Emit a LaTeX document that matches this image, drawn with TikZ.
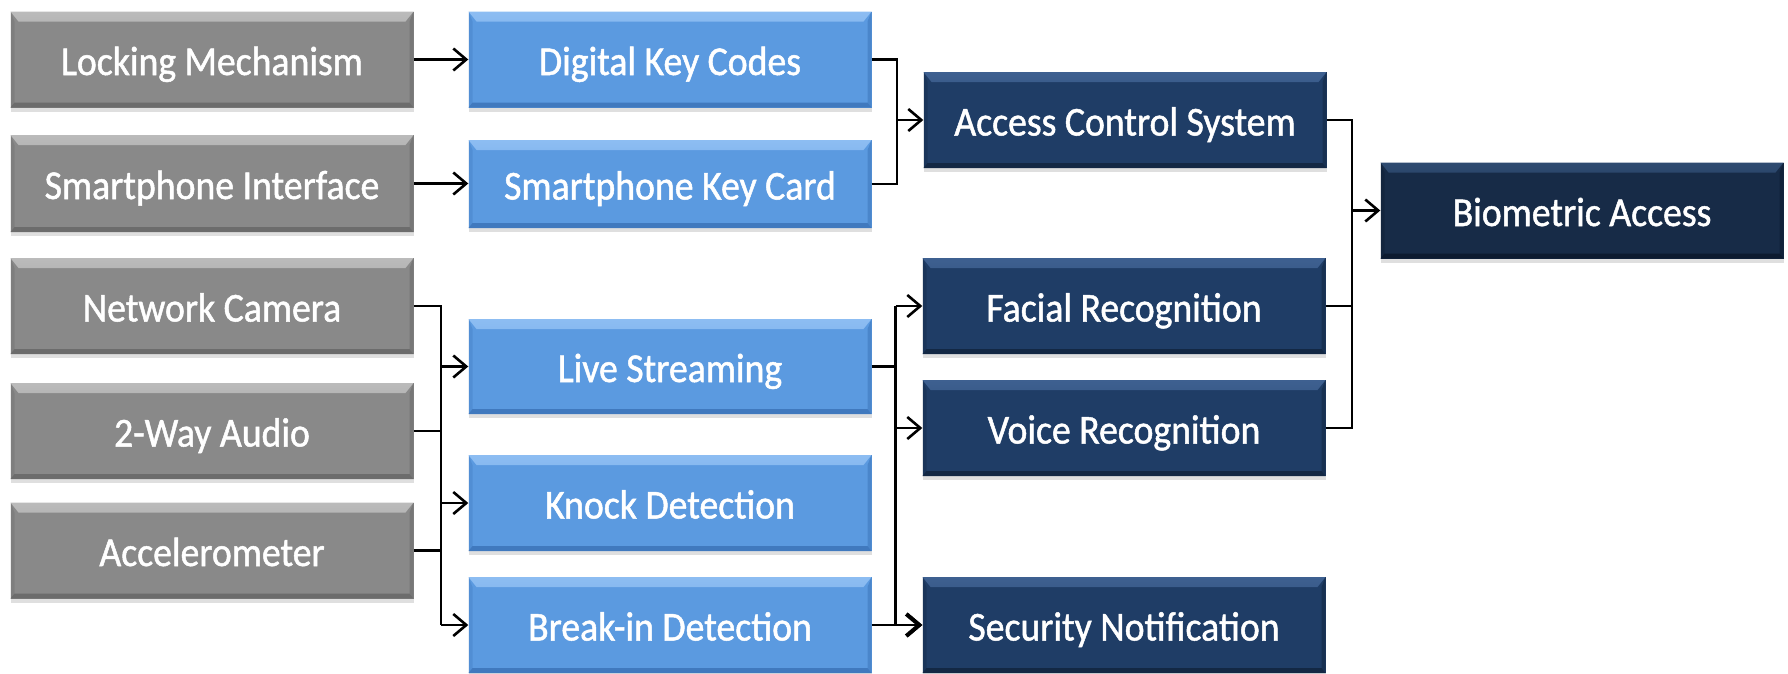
\documentclass[tikz,border=0pt]{standalone}
\usepackage{fontspec}
\setmainfont{Carlito}[FakeStretch=0.92,FakeBold=1.2]
\usetikzlibrary{arrows.meta,shadows}
\definecolor{gbase}{HTML}{898989}
\definecolor{glight}{HTML}{BBBBBB}
\definecolor{gdark}{HTML}{6C6C6C}
\definecolor{bbase}{HTML}{5B9AE0}
\definecolor{blight}{HTML}{8DBDF2}
\definecolor{bdark}{HTML}{4079BE}
\definecolor{nbase}{HTML}{1F3D66}
\definecolor{nlight}{HTML}{3E6090}
\definecolor{ndark}{HTML}{132844}
\definecolor{dbase}{HTML}{172B47}
\definecolor{dlight}{HTML}{2E4A70}
\definecolor{ddark}{HTML}{0D1B30}
\newcommand{\boxfont}{\fontsize{41}{41}\selectfont}
\tikzset{
  bx/.style n args={3}{draw=none, fill=#1, minimum width=403pt, minimum height=96pt,
    inner sep=0pt, text=white, font=\boxfont, text height=31pt, text depth=0pt,
    drop shadow={shadow xshift=0pt, shadow yshift=-4pt, opacity=0.25},
    path picture={
      \shade[top color=#2, bottom color=#1]
        (path picture bounding box.north west) -- (path picture bounding box.north east)
        -- ([xshift=-8pt,yshift=-10pt]path picture bounding box.north east)
        -- ([xshift=8pt,yshift=-10pt]path picture bounding box.north west) -- cycle;
      \fill[#3]
        (path picture bounding box.south west) -- (path picture bounding box.south east)
        -- ([xshift=-4pt,yshift=5pt]path picture bounding box.south east)
        -- ([xshift=4pt,yshift=5pt]path picture bounding box.south west) -- cycle;
      \fill[#3, opacity=0.6]
        (path picture bounding box.north east) -- (path picture bounding box.south east)
        -- ([xshift=-4pt,yshift=5pt]path picture bounding box.south east)
        -- ([xshift=-4pt,yshift=-10pt]path picture bounding box.north east) -- cycle;
      \fill[#3, opacity=0.35]
        (path picture bounding box.north west) -- (path picture bounding box.south west)
        -- ([xshift=4pt,yshift=5pt]path picture bounding box.south west)
        -- ([xshift=4pt,yshift=-10pt]path picture bounding box.north west) -- cycle;
    }},
  graybox/.style={bx={gbase}{glight}{gdark}},
  bluebox/.style={bx={bbase}{blight}{bdark}},
  navybox/.style={bx={nbase}{nlight}{ndark}},
  darkbox/.style={bx={dbase}{dlight}{ddark}},
  conn/.style={draw=black, line width=2.6pt},
  arr/.style={conn, -{Straight Barb[length=13pt,width=22pt,line width=2.6pt]}}
}
\begin{document}
\begin{tikzpicture}[x=1pt,y=-1pt]
\useasboundingbox (0,0) rectangle (1788,673);
% gray column
\node[graybox] (lock) at (212,59.5) {Locking Mechanism};
\node[graybox, minimum height=97pt] (sphi) at (212,183.5) {Smartphone Interface};
\node[graybox] (cam) at (212,306) {Network Camera};
\node[graybox] (audio) at (212,431) {2-Way Audio};
\node[graybox] (accel) at (212,550.5) {Accelerometer};
% blue column
\node[bluebox] (dkc) at (670,59.5) {Digital Key Codes};
\node[bluebox, minimum height=88pt] (skc) at (670,184) {Smartphone Key Card};
\node[bluebox, minimum height=95pt] (live) at (670,366.5) {Live Streaming};
\node[bluebox] (knock) at (670,503) {Knock Detection};
\node[bluebox] (brk) at (670,625) {Break-in Detection};
% navy column
\node[navybox] (acs) at (1125,120) {Access Control System};
\node[navybox] (face) at (1124,306) {Facial Recognition};
\node[navybox] (voice) at (1124,428) {Voice Recognition};
\node[navybox] (sec) at (1124,625) {Security Notification};
\node[darkbox] (bio) at (1582,210.5) {Biometric Access};
% junctions
\coordinate (j1) at (897,120);
\coordinate (j2) at (1352,210.5);
\coordinate (lb) at (441,625);
\coordinate (rb) at (895.5,625);
% connectors
\draw[arr] (lock) -- (dkc);
\draw[arr] (sphi.east) -- (sphi.east -| skc.west);
\draw[conn] (dkc.east) -| (j1);
\draw[conn] (skc.east) -| (j1);
\draw[arr] (j1) -- (acs.west);
\draw[conn] (acs.east) -| (j2);
\draw[conn] (face.east) -| (j2);
\draw[conn] (voice.east) -| (j2);
\draw[arr] (j2) -- (bio.west);
\draw[conn] (cam.east) -| (lb);
\draw[conn] (audio.east) -- (audio.east -| lb);
\draw[conn] (accel.east) -- (accel.east -| lb);
\draw[arr] (live.west -| lb) -- (live.west);
\draw[arr] (knock.west -| lb) -- (knock.west);
\draw[arr] (lb) -- (brk.west);
\draw[conn] (face.west -| rb) -- (rb);
\draw[conn] (live.east) -- (live.east -| rb);
\draw[arr] (face.west -| rb) -- (face.west);
\draw[arr] (voice.west -| rb) -- (voice.west);
\draw[arr] (rb) -- (sec.west);
\draw[conn, -{Straight Barb[length=13pt,width=22pt,line width=4pt]}] (brk.east) -- (sec.west);
\end{tikzpicture}
\end{document}
